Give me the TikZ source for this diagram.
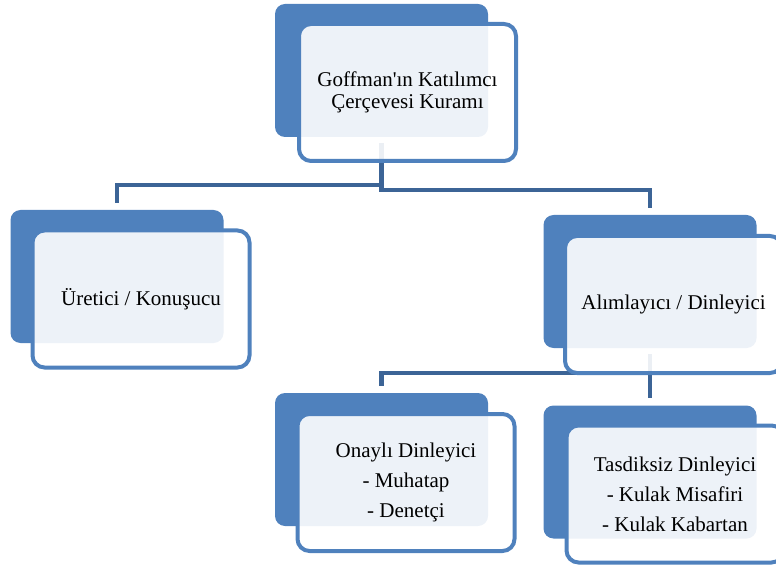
\documentclass[tikz,border=0pt]{standalone}
\usepackage{fontspec}
\setmainfont{Liberation Serif}
\usetikzlibrary{positioning}
\definecolor{kutumavi}{RGB}{79,129,189}
\definecolor{bagmavi}{RGB}{60,100,150}
\tikzset{
	x=1pt, y=-1pt, % koordinatlar piksel gibi, y asagi dogru
	arkakutu/.style={fill=kutumavi, rounded corners=10pt, minimum width=213pt, minimum height=133pt, inner sep=0pt}, % arkadaki dolu kutu
	onkutu/.style={draw=kutumavi, line width=4pt, fill=white, fill opacity=0.9, text opacity=1, rounded corners=12pt, minimum width=217pt, minimum height=137pt, inner sep=0pt, align=center, font=\fontsize{21}{22}\selectfont}, % ondeki kutu
	genis/.style={font=\fontsize{21}{30}\selectfont}, % uc satirli kutular
	bag/.style={draw=bagmavi, line width=4.5pt, shorten <=6pt, shorten >=7pt} % baglanti cizgileri
}

\begin{document}
\begin{tikzpicture}
	\useasboundingbox (0,0) rectangle (776,569);
	% arka kutular
	\node[arkakutu] (kuram) at (381.5,70.5) {};
	\node[arkakutu] (uretici) at (117,276.5) {};
	\node[arkakutu] (alimlayici) at (650,281.5) {};
	\node[arkakutu] (onayli) at (381.5,459.5) {};
	\node[arkakutu] (tasdiksiz) at (650,472) {};
	% baglantilar
	\draw[bag] (kuram.south) -- ++(0,48) -| (uretici.north);
	\draw[bag] (kuram.south) -- ++(0,53) -| (alimlayici.north);
	\draw[bag] (alimlayici.south) -- ++(0,25) -| (onayli.north);
	\draw[bag] (alimlayici.south) -- (tasdiksiz.north);
	% on kutular
	\node[onkutu] (kuramon) at ([shift={(26,22)}]kuram) {Goffman\textquotesingle ın Katılımcı\\Çerçevesi Kuramı};
	\node[onkutu] (ureticion) at ([shift={(24,22.5)}]uretici) {Üretici / Konuşucu};
	\node[onkutu] (alimlayicion) at ([shift={(23.5,23)}]alimlayici) {Alımlayıcı / Dinleyici};
	\node[onkutu, genis] (onaylion) at ([shift={(24.5,23)}]onayli) {Onaylı Dinleyici\\- Muhatap\\- Denetçi};
	\node[onkutu, genis] (tasdiksizon) at ([shift={(25,22)}]tasdiksiz) {Tasdiksiz Dinleyici\\- Kulak Misafiri\\- Kulak Kabartan};
\end{tikzpicture}
\end{document}
